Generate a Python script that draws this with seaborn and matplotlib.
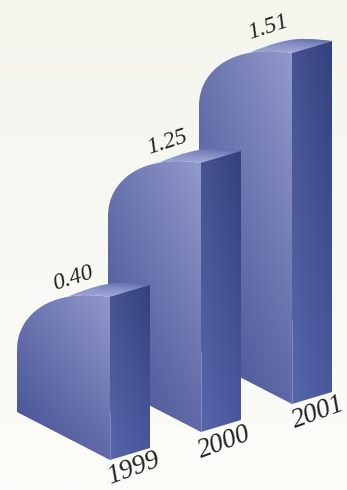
import numpy as np
import pandas as pd
import seaborn as sns
import matplotlib
matplotlib.use("Agg")
import matplotlib.pyplot as plt
from matplotlib.colors import to_rgb
from matplotlib.path import Path
from matplotlib.patches import PathPatch

years = ["1999", "2000", "2001"]
values = [0.40, 1.25, 1.51]
value_labels = ["0.40", "1.25", "1.51"]

# The solids use a pictorial height scale: it is monotone but not linear.
scale_values = [0.40, 1.25, 1.51]
scale_heights = [163, 269, 351]

W, H = 347, 490
ORIGIN = np.array([110.0, 460.0])   # lower front corner of the first solid
STEP = np.array([91.0, -28.0])      # shift from one solid to the next
DEPTH = np.array([40.0, -12.0])     # the receding side face
FRONT = np.array([-93.0, -48.0])    # the slanted front face

sns.set_theme(style="white")
fig = plt.figure(figsize=(W / 100, H / 100), dpi=100)
ax = fig.add_axes([0, 0, 1, 1])

df = pd.DataFrame({"year": years, "value": values})
df["drawn"] = np.interp(df["value"], scale_values, scale_heights)
sns.barplot(data=df, x="year", y="drawn", ax=ax, width=1.0)
bars = list(ax.patches)
positions = [b.get_x() + b.get_width() / 2 for b in bars]
heights = [b.get_height() for b in bars]
for b in bars:
    b.remove()
ax.set_xlabel("")
ax.set_ylabel("")


def gradient(bbox, tl, tr, bl, br, clip=None, z=1):
    """Paint a bilinear colour ramp over bbox, optionally clipped to a path."""
    n = 80
    u, v = np.meshgrid(np.linspace(0, 1, n), np.linspace(0, 1, n))
    u, v = u[..., None], v[..., None]
    c = [np.array(to_rgb(k)) for k in (tl, tr, bl, br)]
    img = (1 - v) * ((1 - u) * c[0] + u * c[1]) + v * ((1 - u) * c[2] + u * c[3])
    l, t, r, b = bbox
    im = ax.imshow(img, extent=(l, r, b, t), origin="upper", aspect="auto",
                   interpolation="bilinear", zorder=z)
    if clip is not None:
        patch = PathPatch(clip, transform=ax.transData, fc="none", ec="none")
        ax.add_patch(patch)
        im.set_clip_path(patch)


gradient((0, 0, W, H), "#f4f5ed", "#f4f5ed", "#fcfcf9", "#fcfcf9", z=0)


def solid(pos, height, z):
    base = ORIGIN + STEP * pos
    top = base - np.array([0, height])
    left_low = base + FRONT

    # Front face with its rounded upper-left shoulder
    pts = [base, left_low, top + (-93, 53),
           top + (-93, 25), top + (-72, 5), top + (-43, 0),
           top + (-28, -3), top + (-12, -2), top]
    codes = [Path.MOVETO, Path.LINETO, Path.LINETO,
             Path.CURVE4, Path.CURVE4, Path.CURVE4,
             Path.CURVE4, Path.CURVE4, Path.CURVE4]
    face = Path(np.vstack([pts, base]), codes + [Path.LINETO])
    gradient((left_low[0], top[1] - 3, base[0], base[1]),
             "#6a74ae", "#9299cb", "#424e94", "#6069a6", face, z)

    # Curved top surface running back from the shoulder
    pts = [top, top + (-12, -2), top + (-28, -3), top + (-43, 0),
           top + (-22, -9), top + (-2, -15), top + (14, -14),
           top + (24, -14), top + (33, -13), top + DEPTH, top]
    codes = [Path.MOVETO, Path.CURVE4, Path.CURVE4, Path.CURVE4,
             Path.CURVE4, Path.CURVE4, Path.CURVE4,
             Path.CURVE4, Path.CURVE4, Path.CURVE4, Path.LINETO]
    band = Path(pts, codes)
    gradient((top[0] - 43, top[1] - 15, top[0] + DEPTH[0], top[1] + 1),
             "#8a92c6", "#5560a4", "#98a0d2", "#b4bbe6", band, z)

    # Shaded side face
    pts = [top, top + DEPTH, base + DEPTH, base, top]
    side = Path(pts, [Path.MOVETO, Path.LINETO, Path.LINETO, Path.LINETO, Path.LINETO])
    gradient((base[0], top[1] + DEPTH[1], base[0] + DEPTH[0], base[1]),
             "#46538f", "#33417e", "#5666ac", "#4a599e", side, z)

    # Thin highlight down the lower part of the front edge
    ax.plot([base[0], base[0]], [base[1] - min(height * 0.3, 85), base[1]],
            color="#9aa3d4", lw=0.6, alpha=0.7, zorder=z, solid_capstyle="butt")
    return base, top


value_offsets = [(-37, -19), (-34, -21), (-24, -26)]
year_offsets = [(23, 9), (23, 11), (26, 9)]
text_kw = dict(family="Liberation Serif", style="italic", color="#222222",
               ha="center", va="center", rotation_mode="anchor")

for i in reversed(range(len(years))):
    base, top = solid(positions[i], heights[i], 10 - 2 * i)
    ax.text(*(top + value_offsets[i]), value_labels[i], fontsize=17, rotation=18,
            zorder=20, **text_kw)
    ax.text(*(base + year_offsets[i]), years[i], fontsize=19.5, rotation=20,
            zorder=20, **text_kw)

ax.set_xlim(0, W)
ax.set_ylim(H, 0)
ax.axis("off")
fig.savefig("out.png", dpi=100)
